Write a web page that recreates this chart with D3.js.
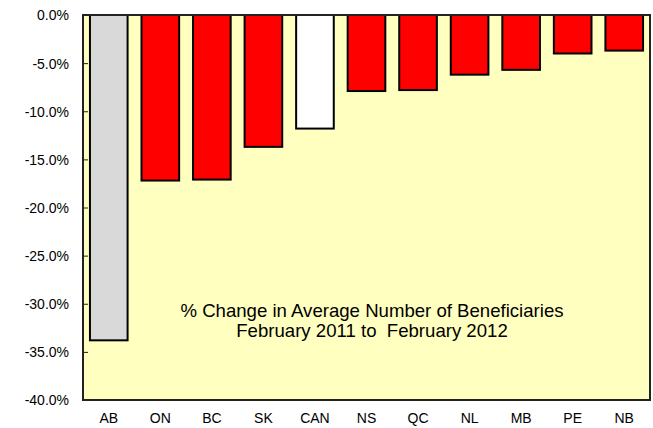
<!DOCTYPE html>
<html>
<head>
<meta charset="utf-8">
<script src="https://cdn.jsdelivr.net/npm/d3@7"></script>
<style>
  body { margin: 0; background: #fff; }
  text { font-family: "Liberation Sans", Arial, sans-serif; fill: #000; }
</style>
</head>
<body>
<div id="chart"></div>
<script>
var provinces = ["AB", "ON", "BC", "SK", "CAN", "NS", "QC", "NL", "MB", "PE", "NB"];
var changes = [-33.8, -17.2, -17.1, -13.7, -11.8, -7.9, -7.8, -6.2, -5.7, -4.0, -3.7];
var barColors = ["#d9d9d9", "#ff0000", "#ff0000", "#ff0000", "#ffffff", "#ff0000", "#ff0000", "#ff0000", "#ff0000", "#ff0000", "#ff0000"];
var yTicks = [0, -5, -10, -15, -20, -25, -30, -35, -40];
var titleLines = ["% Change in Average Number of Beneficiaries", "February 2011 to  February 2012"];

var width = 653,
    height = 428,
    margin = {top: 15, right: 3, bottom: 28, left: 83};

var svg = d3.select("#chart").append("svg")
    .attr("width", width)
    .attr("height", height);

var x = d3.scaleBand()
    .domain(provinces)
    .range([margin.left, width - margin.right])
    .paddingInner(0.27)
    .paddingOuter(0.135);

var y = d3.scaleLinear()
    .domain([0, -40])
    .range([margin.top, height - margin.bottom]);

// plot background
svg.append("rect")
    .attr("x", margin.left)
    .attr("y", margin.top)
    .attr("width", width - margin.right - margin.left)
    .attr("height", y(-40) - margin.top)
    .attr("fill", "#ffffc0");

svg.append("g")
    .selectAll("rect")
    .data(provinces)
    .enter().append("rect")
    .attr("x", function(d) { return x(d); })
    .attr("y", y(0))
    .attr("width", x.bandwidth())
    .attr("height", function(d, i) { return y(changes[i]) - y(0); })
    .attr("fill", function(d, i) { return barColors[i]; })
    .attr("stroke", "#000")
    .attr("stroke-width", 2);

// frame
svg.append("rect")
    .attr("x", margin.left)
    .attr("y", margin.top)
    .attr("width", width - margin.right - margin.left)
    .attr("height", y(-40) - margin.top)
    .attr("fill", "none")
    .attr("stroke", "#222")
    .attr("stroke-width", 2);

var yAxis = svg.append("g")
    .attr("transform", "translate(" + margin.left + ",0)")
    .call(d3.axisLeft(y).tickValues(yTicks).tickSize(-5).tickPadding(14)
        .tickFormat(function(d) { return d.toFixed(1) + "%"; }));
yAxis.select(".domain").remove();
yAxis.selectAll("line").attr("stroke", "#222");
yAxis.selectAll("text").attr("font-size", "14px").attr("dy", "0.35em");

var xAxis = svg.append("g")
    .attr("transform", "translate(0," + y(-40) + ")")
    .call(d3.axisBottom(x).tickSize(0).tickPadding(13));
xAxis.select(".domain").remove();
xAxis.selectAll("text").attr("font-size", "14px");

// caption inside the plot
svg.append("text")
    .attr("x", 372)
    .attr("y", 310)
    .attr("text-anchor", "middle")
    .attr("font-size", "18.6px")
    .style("white-space", "pre")
    .selectAll("tspan")
    .data(titleLines)
    .enter().append("tspan")
    .attr("x", 372)
    .attr("dy", function(d, i) { return i ? "20px" : "0.35em"; })
    .text(function(d) { return d; });
</script>
</body>
</html>
